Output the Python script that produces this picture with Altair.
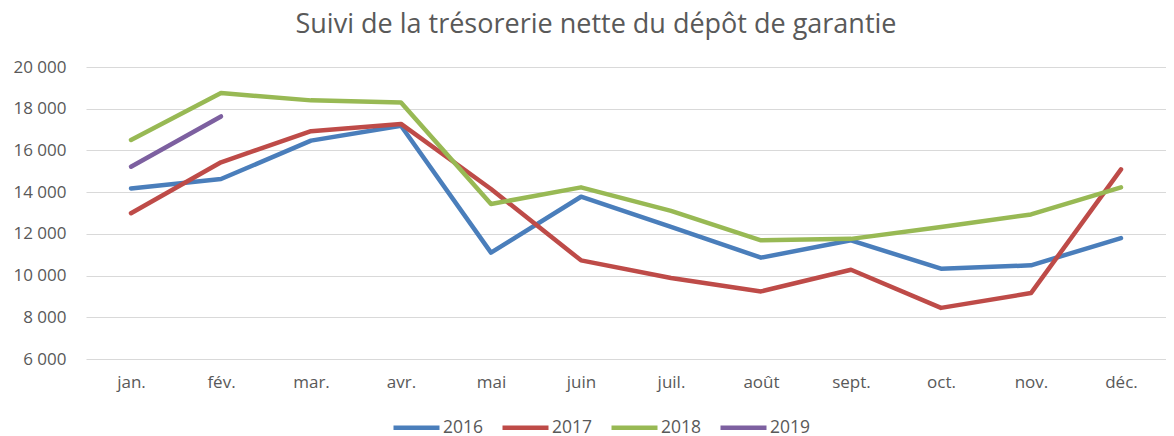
import altair as alt
import pandas as pd

months = ["jan.", "fév.", "mar.", "avr.", "mai", "juin", "juil.", "août", "sept.", "oct.", "nov.", "déc."]
v2016 = [14180, 14630, 16470, 17180, 11100, 13780, 12340, 10860, 11690, 10330, 10490, 11800]
v2017 = [12990, 15430, 16920, 17270, 14150, 10730, 9880, 9240, 10280, 8450, 9160, 15090]
v2018 = [16500, 18750, 18400, 18300, 13430, 14230, 13100, 11690, 11760, 12330, 12930, 14230]
v2019 = [15220, 17630]
years = ["2016", "2017", "2018", "2019"]
colors = ["#4A7EBB", "#BE4B48", "#98B954", "#7D60A0"]

rows = []
for yr, vals in zip(years, [v2016, v2017, v2018, v2019]):
    for i, v in enumerate(vals):
        rows.append({"mois": months[i], "annee": yr, "valeur": v, "ordre": i})
df = pd.DataFrame(rows)

chart = alt.Chart(df).mark_line(strokeWidth=4.5, strokeJoin="round", strokeCap="round").encode(
    x=alt.X("mois:N", sort=months, title=None,
            scale=alt.Scale(type="point", padding=0.5),
            axis=alt.Axis(labelAngle=0, ticks=False, domain=False, grid=False,
                          labelFontSize=17, labelColor="#595959", labelPadding=15,
                          labelFont="Open Sans")),
    y=alt.Y("valeur:Q", title=None,
            scale=alt.Scale(domain=[6000, 20000], nice=False, zero=False),
            axis=alt.Axis(values=list(range(6000, 20001, 2000)), ticks=False, domain=False,
                          gridColor="#D9D9D9", gridWidth=1.2,
                          labelFontSize=17, labelColor="#595959", labelPadding=20,
                          labelFont="Open Sans",
                          labelExpr="replace(format(datum.value, ','), ',', ' ')")),
    color=alt.Color("annee:N", scale=alt.Scale(domain=years, range=colors),
                    legend=alt.Legend(title=None, orient="none", direction="horizontal",
                                      legendX=305, legendY=335,
                                      symbolType="stroke", symbolSize=2116,
                                      symbolStrokeWidth=4.5, labelFontSize=17.5,
                                      labelColor="#595959", labelFont="Open Sans",
                                      columnPadding=9, labelOffset=1)),
    order="ordre:Q",
).properties(
    width=1080,
    height=292,
    title=alt.TitleParams("Suivi de la trésorerie nette du dépôt de garantie",
                          fontSize=27, font="Open Sans", fontWeight="normal",
                          color="#595959", anchor="middle", dx=-30, offset=19),
    autosize=alt.AutoSizeParams(type="none"),
    padding={"left": 78, "top": 59, "right": 0, "bottom": 100},
).configure_view(stroke=None)

chart.save("out.html", embed_options={"renderer": "svg", "actions": False})
